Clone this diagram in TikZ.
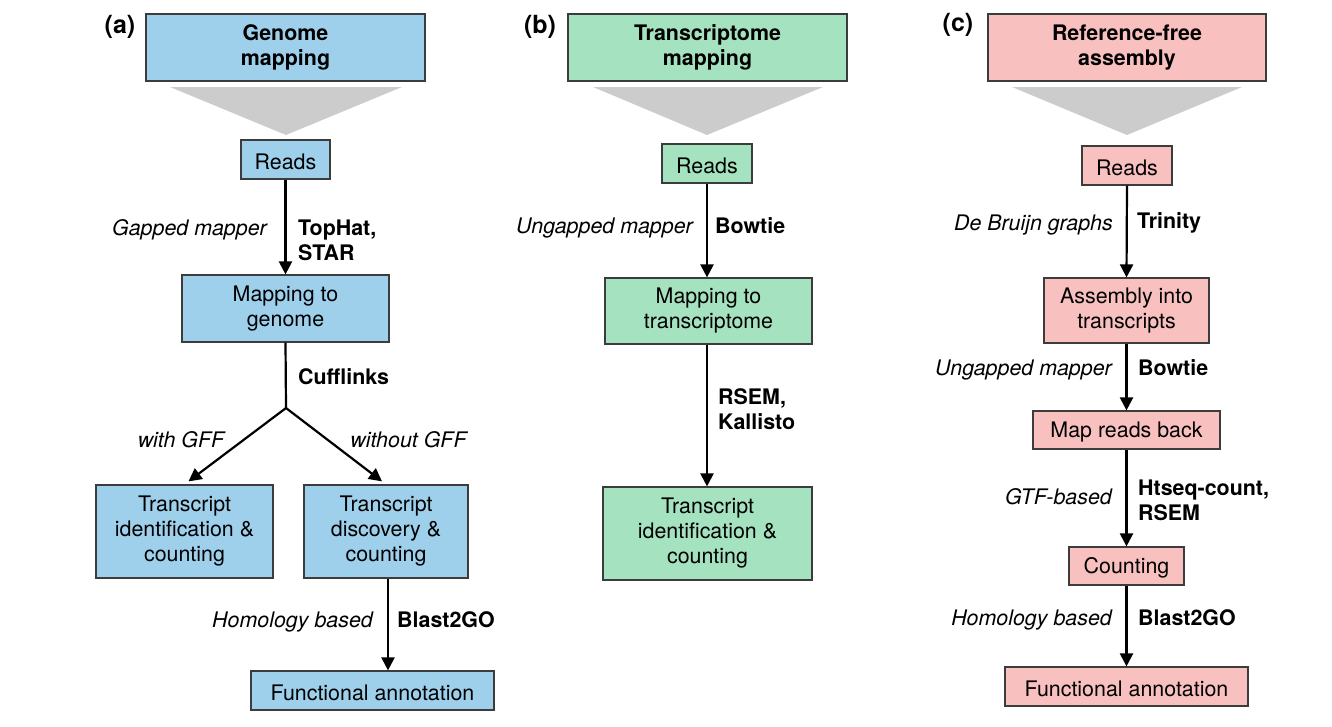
\documentclass[tikz,border=0pt]{standalone}
\usepackage{fontspec}
\setmainfont{TeX Gyre Heros}
\usetikzlibrary{arrows.meta}
\definecolor{blueA}{RGB}{158,208,236}
\definecolor{greenB}{RGB}{165,226,192}
\definecolor{pinkC}{RGB}{249,192,192}
\definecolor{triGray}{RGB}{204,204,204}
\definecolor{edgeGray}{RGB}{60,60,60}
\tikzset{
  box/.style={draw=edgeGray, line width=1.2pt, inner sep=0pt, align=center,
    font=\fontsize{21.4}{25}\selectfont,
    execute at begin node={\rule{0pt}{19.8pt}}},
  titlebox/.style={box, font=\fontsize{21.4}{25}\selectfont\bfseries},
  abox/.style={box, fill=blueA},
  bbox/.style={box, fill=greenB},
  cbox/.style={box, fill=pinkC},
  flow/.style={line width=2.2pt, -{Triangle[length=13pt,width=13pt]}},
  seg/.style={line width=2.2pt},
  lab/.style={inner sep=0pt, font=\fontsize{21.4}{25}\selectfont\itshape},
  tool/.style={inner sep=0pt, align=left, font=\fontsize{21.4}{25}\selectfont\bfseries},
  panel/.style={inner sep=0pt, font=\fontsize{25}{28}\selectfont\bfseries},
  funnel/.style={fill=triGray, draw=none}
}
\begin{document}
\begin{tikzpicture}[x=1pt,y=-1pt]
\useasboundingbox (0,0) rectangle (1332,726);

% ---------------- panel (a) ----------------
\node[panel] (pa) at (120,27) {(a)};
\node[titlebox, fill=blueA, minimum width=279pt, minimum height=67pt] (ta) at (285.5,47.5) {Genome\\mapping};
\fill[funnel] (170,87) -- (402,87) -- (286,135) -- cycle;
\node[abox, minimum width=89pt, minimum height=39pt] (ra) at (285.5,159.5) {Reads};
\node[abox, minimum width=207pt, minimum height=67pt] (ma) at (285.5,308.5) {Mapping to\\genome};
\node[abox, minimum width=177pt, minimum height=93pt] (tia) at (184.5,531.5) {Transcript\\identification \&\\counting};
\node[abox, minimum width=164pt, minimum height=93pt] (tda) at (386,531.5) {Transcript\\discovery \&\\counting};
\node[abox, minimum width=243pt, minimum height=39pt] (fa) at (372.5,690.5) {Functional annotation};
\coordinate (br) at (286,408);

\draw[flow] (ra.south) -- (ma.north);
\draw[seg] (ma.south) -- (br);
\draw[flow, shorten >=5pt] (br) -- (tia.north);
\draw[flow, shorten >=5pt] (br) -- (tda.north);
\draw[flow] ([xshift=2pt]tda.south) -- ([xshift=2pt]tda.south |- fa.north);

\node[lab, anchor=east] (l1) at (267,230) {Gapped mapper};
\node[tool, anchor=west] (t1) at (298,240.5) {TopHat,\\STAR};
\node[tool, anchor=west] (t2) at (298,377) {Cufflinks};
\node[lab] (l2) at (181,439.5) {with GFF};
\node[lab] (l3) at (408.5,439.5) {without GFF};
\node[lab, anchor=east] (l4) at (373,622) {Homology based};
\node[tool, anchor=west] (t3) at (397,620) {Blast2GO};

% ---------------- panel (b) ----------------
\node[panel] (pb) at (540,27) {(b)};
\node[titlebox, fill=greenB, minimum width=279pt, minimum height=67pt] (tb) at (707.5,47.5) {Transcriptome\\mapping};
\fill[funnel] (593,87) -- (823,87) -- (707,135) -- cycle;
\node[bbox, minimum width=90pt, minimum height=39pt] (rb) at (707,163.5) {Reads};
\node[bbox, minimum width=207pt, minimum height=66pt] (mb) at (708.5,311) {Mapping to\\transcriptome};
\node[bbox, minimum width=209pt, minimum height=93pt] (tib) at (707.5,533.5) {Transcript\\identification \&\\counting};

\draw[flow] (rb.south) -- (rb.south |- mb.north);
\draw[flow] (rb.south |- mb.south) -- (rb.south |- tib.north);

\node[lab, anchor=east] (l5) at (693,228) {Ungapped mapper};
\node[tool, anchor=west] (t4) at (715,226) {Bowtie};
\node[tool, anchor=west] (t5) at (718,409.5) {RSEM,\\Kallisto};

% ---------------- panel (c) ----------------
\node[panel] (pc) at (958,25) {(c)};
\node[titlebox, fill=pinkC, minimum width=278pt, minimum height=67pt] (tc) at (1127,47.5) {Reference-free\\assembly};
\fill[funnel] (1012,87) -- (1242,87) -- (1127,135) -- cycle;
\node[cbox, minimum width=90pt, minimum height=39pt] (rc) at (1127,165.5) {Reads};
\node[cbox, minimum width=165pt, minimum height=65pt] (ac) at (1126.5,310.5) {Assembly into\\transcripts};
\node[cbox, minimum width=187pt, minimum height=38pt] (mc) at (1126.5,430) {Map reads back};
\node[cbox, minimum width=115pt, minimum height=38pt] (cc) at (1126.5,566) {Counting};
\node[cbox, minimum width=243pt, minimum height=39pt] (fc) at (1126.5,686.5) {Functional annotation};

\draw[flow] (rc.south) -- (ac.north);
\draw[flow] (ac.south) -- (mc.north);
\draw[flow] (mc.south) -- (cc.north);
\draw[flow] (cc.south) -- (fc.north);

\node[lab, anchor=east] (l6) at (1113,225) {De Bruijn graphs};
\node[tool, anchor=west] (t6) at (1137,223) {Trinity};
\node[lab, anchor=east] (l7) at (1112,370) {Ungapped mapper};
\node[tool, anchor=west] (t7) at (1138,368) {Bowtie};
\node[lab, anchor=east] (l8) at (1112,497) {GTF-based};
\node[tool, anchor=west] (t8) at (1138,500) {Htseq-count,\\RSEM};
\node[lab, anchor=east] (l9) at (1112,620) {Homology based};
\node[tool, anchor=west] (t9) at (1138,618) {Blast2GO};
\end{tikzpicture}
\end{document}
